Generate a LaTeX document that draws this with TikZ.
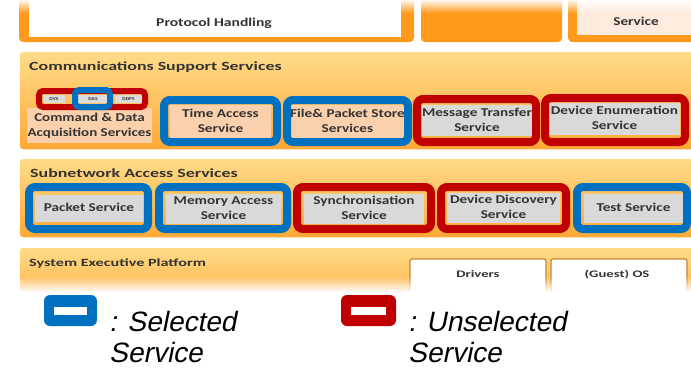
\documentclass[tikz,border=0pt]{standalone}
\usepackage{fontspec}
\usepackage{graphicx}
\setmainfont{Carlito}
\newfontfamily\legendit{Liberation Sans}[FakeSlant=0.2]
\usetikzlibrary{fadings}

\definecolor{selblue}{HTML}{0070C0}
\definecolor{unselred}{HTML}{C00000}
\definecolor{boxgray}{HTML}{D9D9D9}
\definecolor{tinygray}{HTML}{DCDCDC}
\definecolor{boxpeach}{HTML}{FBD0AC}
\definecolor{panelhi}{HTML}{FFDC8A}
\definecolor{panello}{HTML}{FFA835}
\definecolor{deeporange}{HTML}{FF9A1C}
\definecolor{softpeach}{HTML}{FDEBDD}
\definecolor{tabedge}{HTML}{C8833A}
\definecolor{txt}{HTML}{333333}

\tikzfading[name=fadedown, top color=transparent!100, bottom color=transparent!0]
\tikzfading[name=fadeup, top color=transparent!0, bottom color=transparent!100]

% horizontally widened, centred label (one or more lines)
\newcommand{\wtxt}[2][1.27]{\scalebox{#1}[1]{\begin{tabular}{@{}c@{}}#2\end{tabular}}}

\tikzset{
  panel/.style={rounded corners=4pt, top color=panelhi, bottom color=panello, draw=white, line width=1.5pt},
  selframe/.style={draw=selblue, line width=8pt, rounded corners=6pt},
  unselframe/.style={draw=unselred, line width=8pt, rounded corners=6pt},
  svc/.style={inner sep=0pt, text=txt, font=\fontsize{12}{15}\selectfont\bfseries},
  graysvc/.style={svc, fill=boxgray},
  peachsvc/.style={svc, fill=boxpeach},
  tiny/.style={fill=tinygray, inner sep=0pt, minimum height=8pt, text=txt, font=\fontsize{4.5}{5}\selectfont\bfseries},
  title/.style={anchor=base west, inner sep=0pt, text=txt, font=\fontsize{12.5}{15}\selectfont\bfseries},
  legendtxt/.style={anchor=north west, inner sep=0pt, align=left, text=black, font=\legendit\fontsize{28}{31}\selectfont},
}

\begin{document}
\begin{tikzpicture}[x=1pt, y=-1pt]
\useasboundingbox (0,0) rectangle (691,367);
\clip (0,0) rectangle (691,367);
\fill[white] (0,0) rectangle (691,367);

% ---------- top row (cut off at the top) ----------
\fill[deeporange, rounded corners=4pt] (19,-10) rectangle (414,42);
\fill[white] (29,-10) rectangle (401,37);
\node[svc] (proto) at (214,23) {\wtxt[1.3]{Protocol Handling}};

\fill[deeporange, rounded corners=4pt] (421,-10) rectangle (562,42);

\fill[deeporange, rounded corners=4pt] (568,-10) rectangle (700,42);
\fill[softpeach] (577,-10) rectangle (700,35);
\node[svc] (topsvc) at (636,22) {\wtxt{Service}};

\fill[white, path fading=fadeup] (0,-1) rectangle (691,13);

% ---------- Communications Support Services ----------
\path[panel] (19,51) rectangle (700,150);
\node[title] (comm) at (29,70) {\wtxt[1.43]{Communications Support Services}};

\node[peachsvc, minimum width=125pt, minimum height=35pt] (cda) at (89.5,125.5)
  {\wtxt[1.25]{Command \& Data\\Acquisition Services}};
\node[tiny, minimum width=22pt] (dvs) at (54,99) {\scalebox{1.2}[1]{DVS}};
\node[tiny, minimum width=30pt] (das) at (93,99) {\scalebox{1.2}[1]{DAS}};
\node[tiny, minimum width=27pt] (ddps) at (128.5,99) {\scalebox{1.2}[1]{DDPS}};
\draw[unselred, line width=6pt, rounded corners=4pt] (39,91) rectangle (145,107);
\draw[selblue, line width=6pt, rounded corners=4pt] (75,90) rectangle (110,107);

\node[peachsvc, minimum width=101pt, minimum height=33pt] (time) at (220.5,121.5) {\wtxt{Time Access\\Service}};
\draw[selframe] (164,100) rectangle (277,142);

\node[peachsvc, minimum width=111pt, minimum height=33pt] (file) at (347.5,121.5) {\wtxt{File\& Packet Store\\Services}};
\draw[selframe] (287,100) rectangle (408,142);

\node[graysvc, minimum width=110pt, minimum height=31pt] (msg) at (477,120.5) {\wtxt{Message Transfer\\Service}};
\draw[unselframe] (417,99) rectangle (536,142);

\node[graysvc, minimum width=131pt, minimum height=32pt] (enum) at (614.5,119) {\wtxt{Device Enumeration\\Service}};
\draw[unselframe] (545,98) rectangle (685,142);

% ---------- Subnetwork Access Services ----------
\path[panel] (19,158) rectangle (700,238);
\node[title] (subnet) at (30,177) {\wtxt[1.43]{Subnetwork Access Services}};

\node[graysvc, minimum width=108pt, minimum height=27pt] (packet) at (89,208.5) {\wtxt{Packet Service}};
\draw[selframe] (29,187) rectangle (148,229);

\node[graysvc, minimum width=115pt, minimum height=27pt] (memory) at (223.5,208.5) {\wtxt{Memory Access\\Service}};
\draw[selframe] (159,187) rectangle (287,229);

\node[graysvc, minimum width=120pt, minimum height=27pt] (sync) at (364,208.5) {\wtxt{Synchronisation\\Service}};
\draw[unselframe] (297,187) rectangle (431,229);

\node[graysvc, minimum width=113pt, minimum height=30pt] (disc) at (503.5,208) {\wtxt{Device Discovery\\Service}};
\draw[unselframe] (441,187) rectangle (566,229);

\node[graysvc, minimum width=99pt, minimum height=29pt] (test) at (633.5,208.5) {\wtxt{Test Service}};
\draw[selframe] (577,187) rectangle (687,229);

% ---------- System Executive Platform (fading out) ----------
\path[panel] (19,247) rectangle (700,310);
\node[title, font=\fontsize{11}{13}\selectfont\bfseries] (sysexec) at (29,267) {\wtxt[1.47]{System Executive Platform}};

\draw[tabedge, fill=white, line width=1.2pt, rounded corners=2pt] (410,305) -- (410,259) -- (546,259) -- (546,305);
\node[svc, font=\fontsize{10}{12}\selectfont\bfseries] (drivers) at (478,275) {\wtxt[1.47]{Drivers}};
\draw[tabedge, fill=white, line width=1.2pt, rounded corners=2pt] (551,305) -- (551,259) -- (687,259) -- (687,305);
\node[svc, font=\fontsize{10}{12}\selectfont\bfseries] (guestos) at (617,275) {\wtxt[1.47]{(Guest) OS}};

\fill[white, path fading=fadedown] (0,276) rectangle (691,292);
\fill[white] (0,292) rectangle (691,367);

% ---------- legend ----------
\node[fill=selblue, rounded corners=6pt, minimum width=53pt, minimum height=31pt, inner sep=0pt] (legsel) at (70.5,310.5) {};
\node[fill=white, minimum width=33pt, minimum height=8pt, inner sep=0pt] (legselbar) at (legsel.center) {};
\node[legendtxt] (legseltxt) at (109,311) {: Selected\\Service};

\node[fill=unselred, rounded corners=6pt, minimum width=55pt, minimum height=31pt, inner sep=0pt] (legunsel) at (368.5,310.5) {};
\node[fill=white, minimum width=35pt, minimum height=8pt, inner sep=0pt] (legunselbar) at (legunsel.center) {};
\node[legendtxt] (legunseltxt) at (408,311) {: Unselected\\Service};
\end{tikzpicture}
\end{document}
